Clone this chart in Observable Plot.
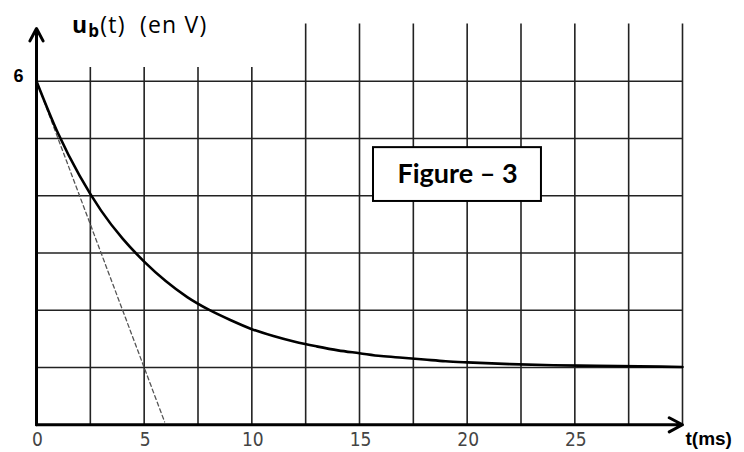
<!DOCTYPE html>
<html><head><meta charset="utf-8">
<script src="https://cdn.jsdelivr.net/npm/d3@7"></script>
<script src="https://cdn.jsdelivr.net/npm/@observablehq/plot@0.6"></script>
<style>html,body{margin:0;padding:0;background:#fff}#chart svg{display:block}</style>
</head><body><div id="chart"></div>
<script>
// values
const timeMs  = [0, 1, 2, 3, 4, 5, 6, 7, 8, 9, 10, 11, 12, 13, 14, 15, 16, 17, 18, 19, 20, 22, 24, 26, 28, 30];
const ubVolts = [6.00, 5.09, 4.35, 3.74, 3.25, 2.85, 2.51, 2.23, 2.01, 1.83, 1.67, 1.55, 1.45, 1.37, 1.30, 1.25, 1.20, 1.17, 1.14, 1.11, 1.09, 1.06, 1.04, 1.03, 1.02, 1.01];
const tangentT = [0, 5.95];
const tangentU = [6, 0.05];
const xTicks = [0, 5, 10, 15, 20, 25];
const yTicks = [6];
const gridT = [2.5, 5, 7.5, 10, 12.5, 15, 17.5, 20, 22.5, 25, 27.5, 30];
const gridU = [1, 2, 3, 4, 5, 6];
const boxT = [15.65, 23.45];
const boxU = [3.9, 4.84];
const figureLabel = "Figure – 3";
const xLabel = "t(ms)";
const titleMain = "u", titleSub = "b", titleRest = "(t)  (en V)";

const curve = timeMs.map((t, i) => ({t, u: ubVolts[i]}));
const tangent = tangentT.map((t, i) => ({t, u: tangentU[i]}));

const chart = Plot.plot({
  width: 744, height: 452,
  marginLeft: 36, marginRight: 62, marginTop: 80.7, marginBottom: 27.7,
  x: {domain: [0, 30], label: null, axis: null},
  y: {domain: [0, 6], label: null, axis: null},
  style: {background: "#fff", overflow: "visible"},
  marks: [
    Plot.ruleX(gridT, {x: d => d, y1: 0, y2: d => d <= 10 ? 6.24 : 7, stroke: "#222", strokeWidth: 1.6}),
    Plot.ruleY(gridU, {y: d => d, x1: 0, x2: 30, stroke: "#222", strokeWidth: 1.6}),
    Plot.rect([0], {x1: boxT[0], x2: boxT[1], y1: boxU[0], y2: boxU[1], fill: "white", stroke: "black", strokeWidth: 2}),
    Plot.text([figureLabel], {x: (boxT[0] + boxT[1]) / 2, y: (boxU[0] + boxU[1]) / 2, text: d => d, fontSize: 27, fontWeight: "bold", fontFamily: "Lato", fill: "black"}),
    Plot.line(tangent, {x: "t", y: "u", stroke: "#555", strokeWidth: 1.3, strokeDasharray: "4,3"}),
    Plot.line(curve, {x: "t", y: "u", stroke: "black", strokeWidth: 2.6, curve: "monotone-x"}),
    Plot.arrow([0], {x1: 0, y1: 0, x2: 30, y2: 0, stroke: "black", strokeWidth: 3, headLength: 7.5, headAngle: 56}),
    Plot.arrow([0], {x1: 0, y1: 0, x2: 0, y2: 6.92, stroke: "black", strokeWidth: 3, headLength: 7, headAngle: 56}),
    Plot.text(xTicks, {x: d => d, y: 0, dy: 15, dx: 1, text: d => `${d}`, fontSize: 19, fontFamily: "'Liberation Sans Narrow', 'DejaVu Sans Condensed', 'Liberation Sans', sans-serif", fill: "#444"}),
    Plot.text(yTicks, {x: 0, y: d => d, dx: -18, dy: -5, text: d => `${d}`, fontSize: 18, fontWeight: "bold", fontFamily: "'Liberation Sans', Arial, sans-serif", fill: "black"}),
    Plot.text([xLabel], {x: 30, y: 0, dx: 3, dy: 14, text: d => d, textAnchor: "start", fontSize: 19, fontWeight: "bold", fontFamily: "'Liberation Sans', Arial, sans-serif", fill: "black"})
  ]
});

const svg = d3.select(chart);
const title = svg.append("text")
  .attr("x", 72).attr("y", 33)
  .attr("text-anchor", "start")
  .attr("font-family", "'Open Sans', sans-serif").attr("font-size", 23).attr("fill", "black")
  .attr("letter-spacing", 1.2)
  .style("white-space", "pre");
title.append("tspan").attr("font-weight", "bold").text(titleMain);
title.append("tspan").attr("font-weight", "bold").attr("font-size", 17).attr("dy", 4).text(titleSub);
title.append("tspan").attr("dy", -4).text(titleRest);

document.getElementById("chart").appendChild(chart);
</script>
</body></html>
